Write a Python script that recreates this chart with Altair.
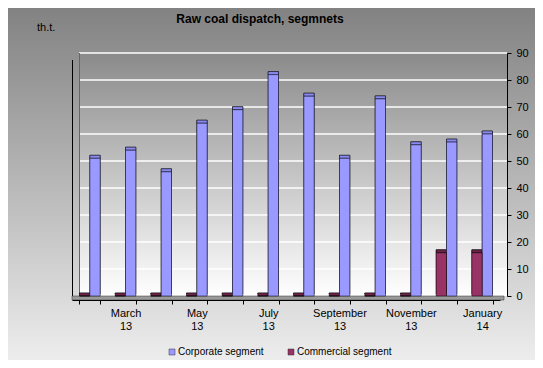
import altair as alt
import pandas as pd

months = ["February 13", "March 13", "April 13", "May 13", "June 13", "July 13",
          "August 13", "September 13", "October 13", "November 13", "December 13", "January 14"]
corporate = [51, 54, 46, 64, 69, 82, 74, 51, 73, 56, 57, 60]
commercial = [0, 0, 0, 0, 0, 0, 0, 0, 0, 0, 16, 16]
series_names = ["Corporate segment", "Commercial segment"]
series_colors = ["#9999ff", "#993366"]
side_colors = ["#6464c0", "#5a1e3e"]
top_colors = ["#8a8aee", "#6e2449"]
y_ticks = [10, 20, 30, 40, 50, 60, 70, 80, 90]
shown_labels = ["March 13", "May 13", "July 13", "September 13", "November 13", "January 14"]
title_text = "Raw coal dispatch, segmnets"
unit_text = "th.t."

W, H = 428, 243
FONT = "Liberation Sans"

rows = []
for m, c, k in zip(months, corporate, commercial):
    rows.append({"month": m, "series": series_names[0], "value": c})
    rows.append({"month": m, "series": series_names[1], "value": k})
df = pd.DataFrame(rows)
one = pd.DataFrame({"a": [0]})
ticks_df = pd.DataFrame({"value": y_ticks})

yscale = alt.Scale(domain=[0, 90], nice=False, zero=True)
xscale = alt.Scale(paddingInner=0.42, paddingOuter=0.21)
offscale = alt.Scale(domain=[series_names[1], series_names[0]])

yaxis = alt.Axis(orient="right", offset=7, values=[0] + y_ticks, tickSize=4, labelPadding=5,
                 grid=False, labelFont=FONT, labelFontSize=11, labelColor="black",
                 domainColor="black", tickColor="black", title=None, zindex=2)
xaxis = alt.Axis(orient="bottom", offset=4, tickBand="extent", tickSize=4,
                 labelPadding=3, labelAngle=0, labelOverlap=False, labelBound=False,
                 labelExpr="indexof(" + str(shown_labels) + ", datum.value) >= 0 ? split(datum.value, ' ') : ''",
                 labelFont=FONT, labelFontSize=11, labelColor="black", labelLineHeight=13,
                 domainColor="black", tickColor="black", title=None, zindex=2)

bg = alt.Chart(one).mark_rect(
    color={"gradient": "linear", "x1": 0, "y1": 0, "x2": 0, "y2": 1,
           "stops": [{"offset": 0, "color": "#828282"}, {"offset": 1, "color": "#ededed"}]}
).encode(x=alt.value(-64), x2=alt.value(463), y=alt.value(-45), y2=alt.value(307))

wall = alt.Chart(one).mark_rect(
    color={"gradient": "linear", "x1": 0, "y1": 0, "x2": 0, "y2": 1,
           "stops": [{"offset": 0, "color": "#8a8a8a"}, {"offset": 1, "color": "#ffffff"}]}
).encode(x=alt.value(7), x2=alt.value(435), y=alt.value(0), y2=alt.value(H))

grid = alt.Chart(ticks_df).mark_rule(color="white", strokeWidth=1.5).encode(
    y=alt.Y("value:Q", scale=yscale, axis=yaxis), x=alt.value(7), x2=alt.value(435))

wall_edge = alt.Chart(one).mark_rule(color="#666666", strokeWidth=1).encode(
    x=alt.value(7.5), y=alt.value(0), y2=alt.value(H))
left_edge = alt.Chart(one).mark_rule(color="black", strokeWidth=1).encode(
    x=alt.value(0.5), y=alt.value(7), y2=alt.value(H + 4))

floor = alt.Chart(one).mark_rect(color="#9a9a9a", stroke="#333333", strokeWidth=0.5).encode(
    x=alt.value(0), x2=alt.value(432), y=alt.value(H), y2=alt.value(H + 4))

side = alt.Chart(df).mark_bar(xOffset=6, x2Offset=6, yOffset=-3, y2Offset=-2,
                              stroke="black", strokeWidth=0.5).encode(
    x=alt.X("month:N", sort=months, scale=xscale, axis=xaxis),
    xOffset=alt.XOffset("series:N", scale=offscale),
    y=alt.Y("value:Q", scale=yscale, axis=yaxis),
    y2=alt.datum(0),
    color=alt.Color("series:N", scale=alt.Scale(domain=series_names, range=side_colors), legend=None),
)

top = alt.Chart(df).mark_bar(xOffset=4.5, x2Offset=4.5, yOffset=-3, y2Offset=0,
                             stroke="black", strokeWidth=0.5).encode(
    x=alt.X("month:N", sort=months, scale=xscale, axis=xaxis),
    xOffset=alt.XOffset("series:N", scale=offscale),
    y=alt.Y("value:Q", scale=yscale, axis=yaxis),
    y2=alt.Y2("value:Q"),
    color=alt.Color("series:N", scale=alt.Scale(domain=series_names, range=top_colors), legend=None),
)

bars = alt.Chart(df).mark_bar(xOffset=3, x2Offset=3, stroke="black", strokeWidth=0.5).encode(
    x=alt.X("month:N", sort=months, scale=xscale, axis=xaxis),
    xOffset=alt.XOffset("series:N", scale=offscale),
    y=alt.Y("value:Q", scale=yscale, axis=yaxis),
    color=alt.Color("series:N", scale=alt.Scale(domain=series_names, range=series_colors),
                    legend=alt.Legend(orient="none", legendX=95, legendY=294, direction="horizontal",
                                      title=None, symbolType="square", symbolSize=36,
                                      symbolStrokeColor="#333333", symbolStrokeWidth=0.5,
                                      labelFont=FONT, labelFontSize=10, labelColor="black",
                                      labelOffset=1, columnPadding=22, zindex=2)),
)

title = alt.Chart(one).mark_text(font=FONT, fontSize=12, fontWeight="bold", color="black",
                                 align="center", baseline="middle").encode(
    x=alt.value(188), y=alt.value(-34), text=alt.value(title_text))
unit = alt.Chart(one).mark_text(font=FONT, fontSize=11, color="black",
                                align="left", baseline="middle").encode(
    x=alt.value(-35), y=alt.value(-25), text=alt.value(unit_text))

chart = alt.layer(bg, wall, grid, wall_edge, left_edge, floor, side, top, bars, title, unit
                  ).resolve_scale(color="independent").properties(
    width=W, height=H, padding=0, background="#ffffff"
).configure_view(stroke=None)

chart.save("out.html", embed_options={"renderer": "svg", "actions": False})
